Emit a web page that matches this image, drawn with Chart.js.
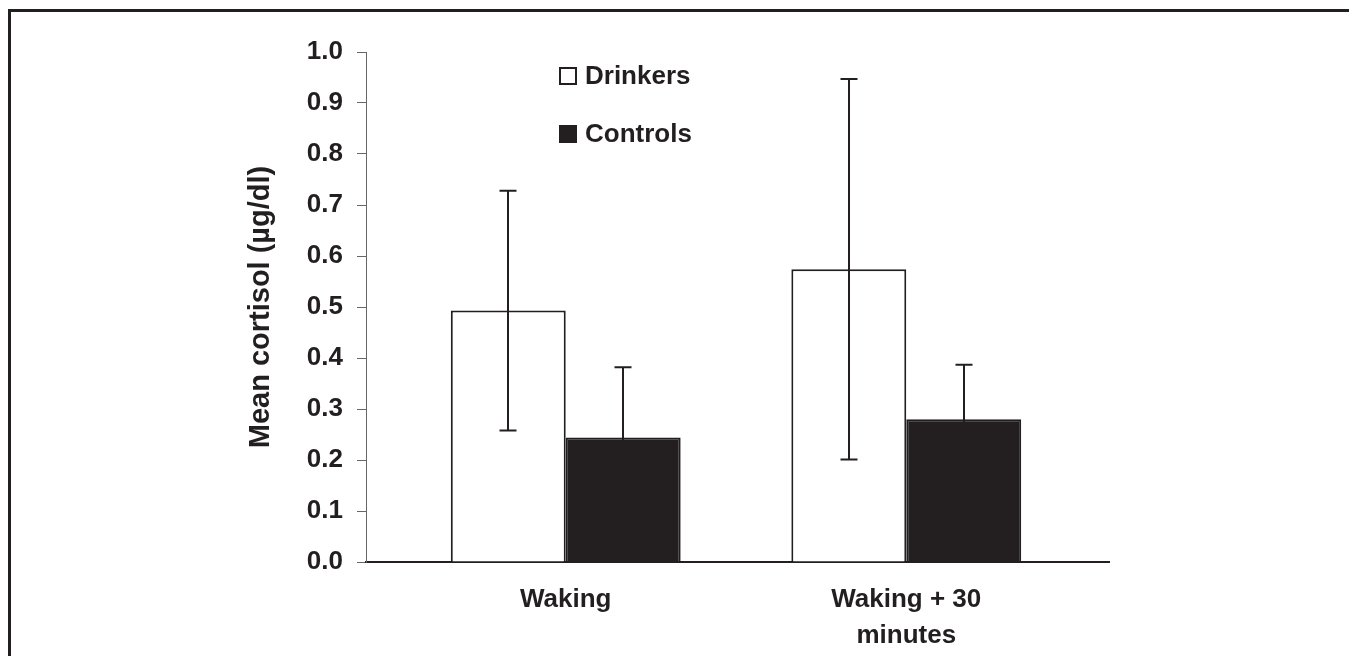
<!DOCTYPE html>
<html>
<head>
<meta charset="utf-8">
<script src="https://cdn.jsdelivr.net/npm/chart.js@4.4.1/dist/chart.umd.min.js"></script>
<style>
  html, body { margin: 0; padding: 0; background: #fff; }
  #wrap { position: relative; width: 1349px; height: 656px; overflow: hidden; }
  #frame { position: absolute; left: 8px; top: 9px; right: -10px; bottom: -10px;
           border-top: 3px solid #231f20; border-left: 3px solid #231f20; }
  canvas { position: absolute; left: 0; top: 0; }
</style>
</head>
<body>
<div id="wrap">
  <div id="frame"></div>
  <canvas id="grafico" width="1349" height="656"></canvas>
</div>
<script>
// dados
const categorias = [['Waking'], ['Waking + 30', 'minutes']];
const posicoes = [1, 2];
const drinkersMedia = [0.493, 0.574];
const drinkersErro = [0.235, 0.373];
const controlsMedia = [0.244, 0.280];
const controlsErro = [0.138, 0.107];
const yTicks = [0, 0.1, 0.2, 0.3, 0.4, 0.5, 0.6, 0.7, 0.8, 0.9, 1.0];

const preto = '#231f20';
const fonte = 'Liberation Sans, Arial, sans-serif';

const ponto = (medias, erros) => medias.map((m, i) => ({ x: posicoes[i], y: m, erro: erros[i] }));

// barras de erro
const errorBars = {
  id: 'errorBars',
  afterDatasetsDraw(chart) {
    const ctx = chart.ctx;
    const y = chart.scales.y;
    ctx.save();
    ctx.strokeStyle = preto;
    ctx.lineWidth = 2;
    chart.data.datasets.forEach((ds, di) => {
      const meta = chart.getDatasetMeta(di);
      meta.data.forEach((bar, i) => {
        const p = ds.data[i];
        const hi = y.getPixelForValue(p.y + p.erro);
        const lo = y.getPixelForValue(p.y - p.erro);
        const x = Math.round(bar.x);
        ctx.beginPath();
        ctx.moveTo(x, lo); ctx.lineTo(x, hi);
        ctx.moveTo(x - 8.5, hi); ctx.lineTo(x + 8.5, hi);
        ctx.moveTo(x - 8.5, lo); ctx.lineTo(x + 8.5, lo);
        ctx.stroke();
      });
    });
    ctx.restore();
  }
};

// legenda vertical dentro do gráfico
const legenda = {
  id: 'legenda',
  afterDraw(chart) {
    const ctx = chart.ctx;
    ctx.save();
    ctx.font = 'bold 26px ' + fonte;
    ctx.textBaseline = 'middle';
    chart.data.datasets.forEach((ds, i) => {
      const bx = 559, by = 67 + i * 58;
      ctx.fillStyle = ds.backgroundColor;
      ctx.fillRect(bx, by, 18, 18);
      ctx.strokeStyle = preto;
      ctx.lineWidth = 2;
      ctx.strokeRect(bx + 1, by + 1, 16, 16);
      ctx.fillStyle = preto;
      ctx.fillText(ds.label, bx + 26, by + 10);
    });
    ctx.restore();
  }
};

const chart = new Chart(document.getElementById('grafico'), {
  type: 'bar',
  data: {
    datasets: [
      {
        label: 'Drinkers',
        data: ponto(drinkersMedia, drinkersErro),
        backgroundColor: '#ffffff',
        borderColor: preto,
        borderWidth: 2
      },
      {
        label: 'Controls',
        data: ponto(controlsMedia, controlsErro),
        backgroundColor: preto,
        borderColor: preto,
        borderWidth: 2
      }
    ]
  },
  options: {
    responsive: false,
    animation: false,
    categoryPercentage: 0.675,
    barPercentage: 1,
    layout: { padding: { top: 52, right: 240, left: 0, bottom: 0 } },
    plugins: { legend: { display: false }, tooltip: { enabled: false } },
    scales: {
      x: {
        type: 'linear',
        offset: false,
        bounds: 'data',
        min: 0.4135,
        max: 2.5953,
        afterBuildTicks: s => { s.ticks = posicoes.map(v => ({ value: v })); },
        afterFit: s => { s.height = 94; },
        grid: { display: false, drawTicks: false },
        border: { display: true, color: preto, width: 2 },
        ticks: {
          autoSkip: false,
          maxRotation: 0,
          padding: 20,
          color: preto,
          font: { family: fonte, size: 26, weight: 'bold', lineHeight: 1.38 },
          callback: v => categorias[posicoes.indexOf(v)]
        }
      },
      y: {
        min: 0,
        max: 1,
        afterBuildTicks: s => { s.ticks = yTicks.map(v => ({ value: v })); },
        afterFit: s => { s.width = 366; },
        grid: { drawOnChartArea: false, tickLength: 9, color: '#666' },
        border: { display: true, color: '#666', width: 1 },
        ticks: {
          padding: 14,
          color: preto,
          font: { family: fonte, size: 26, weight: 'bold' },
          callback: v => v.toFixed(1)
        },
        title: {
          display: true,
          text: 'Mean cortisol (µg/dl)',
          color: preto,
          padding: { top: 244, bottom: 0 },
          font: { family: fonte, size: 29, weight: 'bold' }
        }
      }
    }
  },
  plugins: [errorBars, legenda]
});
</script>
</body>
</html>
